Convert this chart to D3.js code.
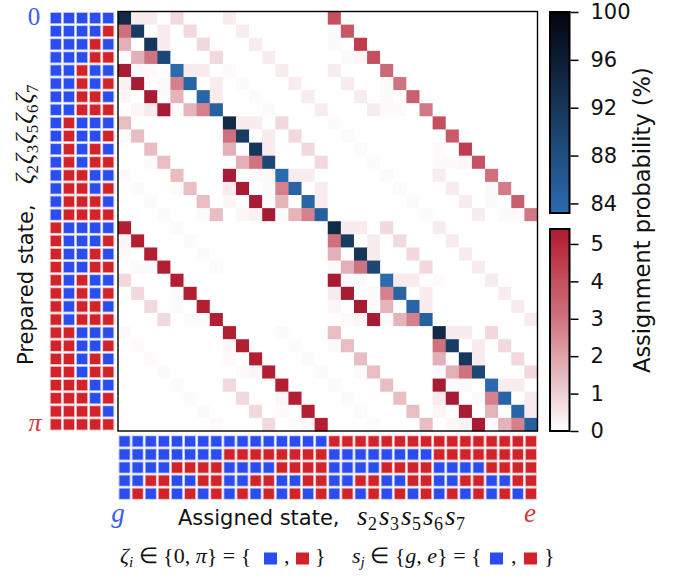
<!DOCTYPE html>
<html><head><meta charset="utf-8">
<script src="https://cdn.jsdelivr.net/npm/d3@7"></script>
<style>body{margin:0;background:#fff}svg{display:block}</style>
</head><body>
<svg id="c" width="693" height="579"></svg>
<script>
// ---------------- data ----------------
const states = ["00000","00001","00010","00011","00100","00101","00110","00111",
  "01000","01001","01010","01011","01100","01101","01110","01111",
  "10000","10001","10010","10011","10100","10101","10110","10111",
  "11000","11001","11010","11011","11100","11101","11110","11111"];
const bitSubs = ["2","3","5","6","7"];
// assignment probability (%), rows = prepared state, cols = assigned state
const prob = [
 [94,.4,.4,0,.8,0,0,0, .4,0,0,0,0,0,0,0, 4.0,0,0,0,0,0,0,0, 0,0,0,0,0,0,0,0],
 [3.1,91,0,.4,0,.8,0,0, 0,.4,0,0,0,0,0,0, .1,3.8,0,0,0,0,0,0, 0,0,0,0,0,0,0,0],
 [1.7,0,91.8,.4,0,0,.8,0, 0,0,.4,0,0,0,0,0, .1,0,4.5,0,0,0,0,0, 0,0,0,0,0,0,0,0],
 [.1,1.7,3.0,89,0,0,0,.8, 0,0,0,.4,0,0,0,0, 0,.1,.2,4.0,0,0,0,0, 0,0,0,0,0,0,0,0],
 [5.8,.1,.1,0,83.5,.4,.4,0, .1,0,0,0,.4,0,0,0, .4,0,0,0,3.3,0,0,0, 0,0,0,0,0,0,0,0],
 [.3,5.8,0,.1,2.7,84.5,0,.4, 0,.1,0,0,0,.4,0,0, 0,.4,0,0,.1,3.0,0,0, 0,0,0,0,0,0,0,0],
 [.2,0,5.8,.1,1.6,0,84.2,.4, 0,0,.1,0,0,0,.4,0, 0,0,.4,0,.1,0,3.6,0, 0,0,0,0,0,0,0,0],
 [0,.2,.4,5.8,.1,1.6,2.7,85, 0,0,0,.1,0,0,0,.4, 0,0,0,.4,.1,.1,0,2.9, 0,0,0,0,0,0,0,0],
 [1.4,0,0,0,0,0,0,0, 94,.4,.4,0,.8,0,0,0, .1,0,0,0,0,0,0,0, 4.0,0,0,0,0,0,0,0],
 [.1,1.4,0,0,0,0,0,0, 3.1,91,0,.4,0,.8,0,0, 0,.1,0,0,0,0,0,0, 0,3.7,0,0,0,0,0,0],
 [0,0,1.4,0,0,0,0,0, 1.7,0,91.8,.4,0,0,.8,0, 0,0,.1,0,0,0,0,0, .1,0,4.5,0,0,0,0,0],
 [0,0,.1,1.4,0,0,0,0, 0,1.7,3.0,89,0,0,0,.8, 0,0,0,.1,0,0,0,0, .1,.1,.2,3.9,0,0,0,0],
 [.1,0,0,0,1.4,0,0,0, 5.8,.1,.1,.1,83.5,.4,.4,0, 0,0,0,0,.1,0,0,0, .4,0,0,0,3.1,0,0,0],
 [0,.1,0,0,.1,1.4,0,0, .4,5.8,0,.1,2.7,84.5,0,.4, 0,0,0,0,0,.1,0,0, 0,.4,0,0,.1,2.8,0,0],
 [0,0,.1,0,0,0,1.4,0, .2,0,5.8,.1,1.6,0,84.2,.4, 0,0,0,0,0,0,.1,0, 0,0,.4,0,.1,0,3.6,0],
 [0,0,0,.1,0,0,.1,1.4, 0,.2,.3,5.8,.1,1.6,2.7,85, 0,0,0,0,0,0,0,.1, 0,0,0,.4,0,.1,.1,2.9],
 [5.3,0,0,0,.1,0,0,0, 0,0,0,0,0,0,0,0, 94,.4,.4,0,.8,0,0,0, .4,0,0,0,0,0,0,0],
 [.2,5.3,0,0,0,.1,0,0, 0,0,0,0,0,0,0,0, 3.1,91,0,.4,0,.8,0,0, 0,.4,0,0,0,0,0,0],
 [.1,0,5.3,0,0,0,.1,0, 0,0,0,0,0,0,0,0, 1.7,0,91.8,.4,0,0,.8,0, 0,0,.4,0,0,0,0,0],
 [0,.1,.1,5.3,0,0,0,.1, 0,0,0,0,0,0,0,0, .1,1.7,3.0,89,0,0,0,.8, 0,0,0,.4,0,0,0,0],
 [.8,0,0,0,5.3,0,0,0, 0,0,0,0,0,0,0,0, 5.8,.1,.1,0,83.5,.4,.4,0, .1,0,0,0,.4,0,0,0],
 [0,.8,0,0,.1,5.3,0,0, 0,0,0,0,0,0,0,0, .4,5.8,0,.1,2.7,84.5,0,.4, 0,0,0,0,0,.4,0,0],
 [0,0,.8,0,.1,0,5.3,0, 0,0,0,0,0,0,0,0, .2,0,5.8,.1,1.6,0,84.2,.4, 0,0,0,0,0,0,.4,0],
 [0,0,0,.8,0,.1,.1,5.3, 0,0,0,0,0,0,0,0, 0,.1,.2,5.8,.1,1.6,2.7,85, 0,0,0,0,0,0,0,.4],
 [.1,0,0,0,0,0,0,0, 5.3,0,0,0,.1,0,0,0, 1.4,0,0,0,0,0,0,0, 94,.4,.4,0,.8,0,0,0],
 [0,.1,0,0,0,0,0,0, .2,5.3,0,0,0,.1,0,0, .1,1.4,0,0,0,0,0,0, 3.1,91,0,.4,0,.8,0,0],
 [0,0,.1,0,0,0,0,0, .1,0,5.3,0,0,0,.1,0, 0,0,1.4,0,0,0,0,0, 1.7,0,91.8,.4,0,0,.8,0],
 [0,0,0,.1,0,0,0,0, 0,.1,.2,5.3,0,0,0,.1, 0,0,.1,1.4,0,0,0,0, .1,1.7,3.0,89,0,0,0,.8],
 [0,0,0,0,.1,0,0,0, .8,0,0,0,5.3,0,0,0, .1,0,0,0,1.4,0,0,0, 5.8,.1,.1,0,83.5,.4,.4,0],
 [0,0,0,0,0,.1,0,0, 0,.8,0,0,.2,5.3,0,0, 0,.1,0,0,0,1.4,0,0, .4,5.8,0,.1,2.7,84.5,0,.4],
 [0,0,0,0,0,0,.1,0, 0,0,.8,0,.1,0,5.3,0, 0,0,.1,0,0,0,1.4,0, .2,0,5.8,0,1.6,0,84.2,.4],
 [0,0,0,0,0,0,0,.1, 0,0,0,.8,0,.1,.2,5.3, 0,0,0,.1,0,0,0,1.4, 0,.2,.3,5.8,.1,1.6,2.7,85]
];
const blueTicks = [84, 88, 92, 96, 100];
const redTicks = [0, 1, 2, 3, 4, 5];
const blueDomain = [83.2, 100];
const redDomain = [0, 5.4];
const blueStops = [83.2, 84, 88, 92, 96, 100];
const blueColors = ["#2b6cb0", "#2966a8", "#1f4e80", "#173658", "#0c1d33", "#02050b"];
const redStops = [0, 1, 2, 3, 4, 5, 5.4, 6];
const redColors = ["#ffffff", "#eed0d4", "#dea2aa", "#d07380", "#c4505f", "#b8283c", "#b01a2f", "#a31c36"];
const bitColor = {"0": "#2b4df0", "1": "#d2232b"};

// ---------------- drawing ----------------
const svg = d3.select("#c");
const defs = svg.append("defs");
const SANS = "DejaVu Sans", SERIF = "Liberation Serif";

const idx = d3.range(states.length);
const x = d3.scaleBand().domain(idx).range([118, 537.5]);
const y = d3.scaleBand().domain(idx).range([11.5, 431]);
const blue = d3.scaleLinear().domain(blueStops).range(blueColors).clamp(true);
const red = d3.scaleLinear().domain(redStops).range(redColors).clamp(true);
const color = v => v >= 50 ? blue(v) : red(v);

const cells = [];
prob.forEach((row, r) => row.forEach((v, c) => cells.push({r, c, v})));
svg.append("g").selectAll("rect").data(cells).join("rect")
  .attr("x", d => x(d.c)).attr("y", d => y(d.r))
  .attr("width", x.bandwidth() + 0.4).attr("height", y.bandwidth() + 0.4)
  .attr("fill", d => color(d.v));
svg.append("rect").attr("x", 118).attr("y", 11.5).attr("width", 419.5).attr("height", 419.5)
  .attr("fill", "none").attr("stroke", "#000").attr("stroke-width", 1.4);

// bit grids
const bitX = d3.scaleBand().domain(d3.range(5)).range([49.3, 114.8]);
const bitY = d3.scaleBand().domain(d3.range(5)).range([434.8, 500.3]);
const sq = 10.2;
function bitSquare(g, cx, cy, b) {
  g.append("rect").attr("x", cx - sq/2 - 0.9).attr("y", cy - sq/2 - 0.9)
    .attr("width", sq + 1.8).attr("height", sq + 1.8).attr("fill", bitColor[b]).attr("opacity", 0.3);
  g.append("rect").attr("x", cx - sq/2).attr("y", cy - sq/2)
    .attr("width", sq).attr("height", sq).attr("fill", bitColor[b]);
}
const gl = svg.append("g");
states.forEach((s, r) => s.split("").forEach((b, k) => {
  bitSquare(gl, bitX(k) + bitX.bandwidth()/2, y(r) + y.bandwidth()/2, b);
  bitSquare(gl, x(r) + x.bandwidth()/2, bitY(k) + bitY.bandwidth()/2, b);
}));

// corner labels
svg.append("text").attr("x", 34).attr("y", 25).attr("text-anchor", "middle")
  .attr("font-family", SERIF).attr("font-size", 25).attr("fill", "#3a5cf0").text("0");
svg.append("text").attr("x", 35).attr("y", 431).attr("text-anchor", "middle")
  .attr("font-family", SERIF).attr("font-style", "italic").attr("font-size", 26).attr("fill", "#d03a3a").text("π");
svg.append("text").attr("x", 118).attr("y", 522).attr("text-anchor", "middle")
  .attr("font-family", SERIF).attr("font-style", "italic").attr("font-size", 27).attr("fill", "#3a5cf0").text("g");
svg.append("text").attr("x", 530).attr("y", 522).attr("text-anchor", "middle")
  .attr("font-family", SERIF).attr("font-style", "italic").attr("font-size", 27).attr("fill", "#d03a3a").text("e");

// math run helper
function mathRun(t, letter, subs, size, subSize, gap) {
  subs.forEach((s, i) => {
    t.append("tspan").attr("font-family", SERIF).attr("font-style", "italic")
      .attr("font-size", size).attr("dx", i ? gap : 0).attr("dy", i ? -5 : 0).text(letter);
    t.append("tspan").attr("font-family", SERIF).attr("font-size", subSize)
      .attr("dx", 0.5).attr("dy", 5).text(s);
  });
}

// x label
svg.append("text").attr("x", 178).attr("y", 525).attr("font-family", SANS).attr("font-size", 21)
  .attr("fill", "#111").text("Assigned state,");
mathRun(svg.append("text").attr("x", 357).attr("y", 525).attr("fill", "#111"), "s", bitSubs, 27, 18, 2);

// y label
const gy = svg.append("g").attr("transform", "translate(33,0) rotate(-90)");
gy.append("text").attr("x", -365).attr("y", 0).attr("font-family", SANS).attr("font-size", 21)
  .attr("fill", "#111").text("Prepared state,");
mathRun(gy.append("text").attr("x", -184).attr("y", 0).attr("fill", "#111"), "ζ", bitSubs, 25, 17, 1);

// colorbars
function colorbar(y0, y1, scale, domain, ticks, id) {
  const cb = d3.scaleLinear().domain(domain).range([y1, y0]);
  const grad = defs.append("linearGradient").attr("id", id)
    .attr("x1", 0).attr("x2", 0).attr("y1", 1).attr("y2", 0);
  d3.range(0, 1.0001, 0.02).forEach(t => grad.append("stop").attr("offset", t)
    .attr("stop-color", scale(domain[0] + t * (domain[1] - domain[0]))));
  svg.append("rect").attr("x", 550).attr("y", y0).attr("width", 19.5).attr("height", y1 - y0)
    .attr("fill", `url(#${id})`).attr("stroke", "#000").attr("stroke-width", 2);
  const ax = svg.append("g").attr("transform", "translate(570.5,0)")
    .call(d3.axisRight(cb).tickValues(ticks).tickSize(8).tickPadding(12).tickFormat(d3.format("d")));
  ax.select(".domain").remove();
  ax.selectAll("line").attr("stroke", "#000").attr("stroke-width", 1.5);
  ax.selectAll("text").attr("font-family", SANS).attr("font-size", 21).attr("fill", "#111");
}
colorbar(12, 213, blue, blueDomain, blueTicks, "gb");
colorbar(229, 431, red, redDomain, redTicks, "gr");

svg.append("g").attr("transform", "translate(650,0) rotate(-90)")
  .append("text").attr("x", -373).attr("y", 0).attr("font-family", SANS).attr("font-size", 22.5)
  .attr("fill", "#111").text("Assignment probability (%)");

// bottom legend
function legendPart(x0, letter, sub, setText, xb, xc, xr, xe) {
  const t = svg.append("text").attr("x", x0).attr("y", 563).attr("font-family", SERIF)
    .attr("font-size", 22).attr("fill", "#111");
  t.append("tspan").attr("font-style", "italic").text(letter);
  t.append("tspan").attr("font-style", "italic").attr("font-size", 15).attr("dy", 4).text(sub);
  t.append("tspan").attr("dy", -4).text(" ∈ ");
  setText.forEach(p => t.append("tspan").attr("font-style", p.it ? "italic" : "normal").text(p.t));
  t.append("tspan").text(" = {");
  svg.append("rect").attr("x", xb).attr("y", 552.5).attr("width", 13).attr("height", 12).attr("fill", bitColor["0"]);
  svg.append("text").attr("x", xc).attr("y", 563).attr("font-family", SERIF).attr("font-size", 22).attr("fill", "#111").text(",");
  svg.append("rect").attr("x", xr).attr("y", 552.5).attr("width", 13).attr("height", 12).attr("fill", bitColor["1"]);
  svg.append("text").attr("x", xe).attr("y", 563).attr("font-family", SERIF).attr("font-size", 22).attr("fill", "#111").text("}");
}
legendPart(120, "ζ", "i", [{t:"{0, "}, {t:"π", it:true}, {t:"}"}], 264, 284, 296, 315);
legendPart(352, "s", "j", [{t:"{"}, {t:"g", it:true}, {t:", "}, {t:"e", it:true}, {t:"}"}], 490, 511, 524, 544);
</script>
</body></html>
